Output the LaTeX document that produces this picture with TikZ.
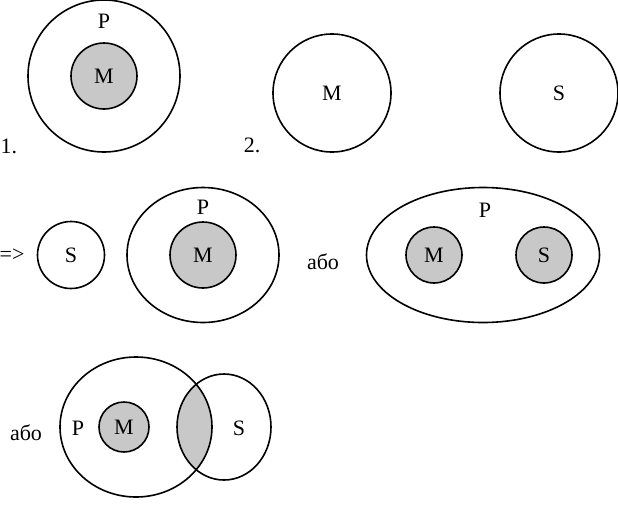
\documentclass[tikz,border=0pt]{standalone}
\usepackage{fontspec}
\setmainfont{Liberation Serif}
\usetikzlibrary{shapes.geometric}
\definecolor{setgray}{RGB}{200,200,200}

\begin{document}
\begin{tikzpicture}[
  x=1pt,
  y=-1pt,
  line width=1.6pt,
  font=\fontsize{22}{26}\selectfont,
  set/.style={draw, circle, inner sep=0pt},
  subset/.style={set, fill=setgray},
  oval/.style={draw, ellipse, inner sep=0pt},
  tag/.style={inner sep=0pt}
]
  \useasboundingbox (0,0) rectangle (618,504);

  \node[set, minimum size=152pt] (P1) at (104,76) {};
  \node[subset, minimum size=66pt] (M1) at (104,76) {M};
  \node[tag] (P1lbl) at (104,21) {P};
  \node[tag] (n1) at (9,146) {1.};

  \node[tag] (n2) at (252,145) {2.};
  \node[set, minimum size=118pt] (M2) at (332,93) {M};
  \node[set, minimum size=118pt] (S2) at (559,93) {S};

  \node[tag] (then) at (12,255) {=>};
  \node[set, minimum size=67pt] (S3) at (71,255) {S};
  \node[oval, minimum width=152pt, minimum height=135pt] (P3) at (203,255) {};
  \node[subset, minimum size=66pt] (M3) at (203,255) {M};
  \node[tag] (P3lbl) at (203,207) {P};

  \node[tag] (or1) at (323,262) {або};
  \node[oval, minimum width=233pt, minimum height=135pt] (P4) at (483,255) {};
  \node[subset, minimum size=56pt] (M4) at (434,255) {M};
  \node[subset, minimum size=56pt] (S4) at (544,255) {S};
  \node[tag] (P4lbl) at (485,210) {P};

  \begin{scope}
    \clip (136,427) ellipse [x radius=76pt, y radius=70pt];
    \fill[setgray] (224,427) ellipse [x radius=47pt, y radius=53pt];
  \end{scope}
  \node[tag] (or2) at (26,433) {або};
  \node[oval, minimum width=152pt, minimum height=140pt] (P5) at (136,427) {};
  \node[oval, minimum width=94pt, minimum height=106pt] (S5) at (224,427) {};
  \node[subset, minimum size=50pt] (M5) at (124,427) {M};
  \node[tag] (P5lbl) at (78,428) {P};
  \node[tag] (S5lbl) at (239,428) {S};
\end{tikzpicture}
\end{document}
